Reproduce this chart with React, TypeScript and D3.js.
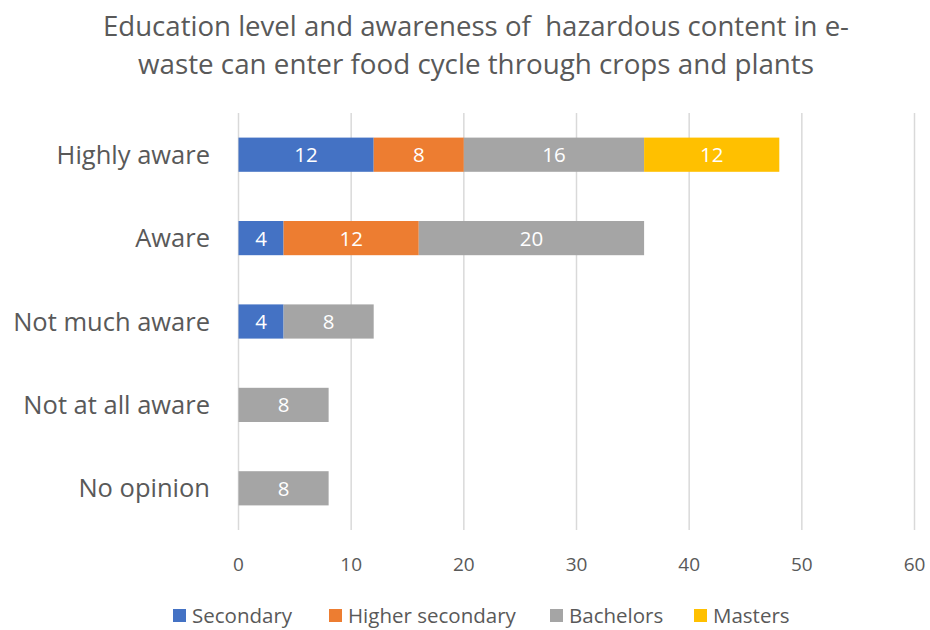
import React from "react";
import * as d3 from "d3";

const categories = ["Highly aware", "Aware", "Not much aware", "Not at all aware", "No opinion"];
const seriesNames = ["Secondary", "Higher secondary", "Bachelors", "Masters"];
const secondary = [12, 4, 4, 0, 0];
const higherSecondary = [8, 12, 0, 0, 0];
const bachelors = [16, 20, 8, 8, 8];
const masters = [12, 0, 0, 0, 0];
const xTicks = [0, 10, 20, 30, 40, 50, 60];
const colors = ["#4472C4", "#ED7D31", "#A5A5A5", "#FFC000"];
const titleLines = [
  "Education level and awareness of  hazardous content in e-",
  "waste can enter food cycle through crops and plants",
];

const FONT = "'Open Sans', Lato, sans-serif";

export default function App() {
  const W = 930, H = 630;
  const x = d3.scaleLinear().domain([0, 60]).range([238.5, 914.5]);
  const y = d3.scaleBand().domain(categories).range([113, 530]).paddingInner(0.59).paddingOuter(0.295);
  const rows = categories.map((c, i) => ({
    cat: c,
    Secondary: secondary[i],
    "Higher secondary": higherSecondary[i],
    Bachelors: bachelors[i],
    Masters: masters[i],
  }));
  const stack = d3.stack<any>().keys(seriesNames)(rows);
  const legendX = [173, 329, 550, 694];
  const titleWidths = [746, 676];
  return (
    <svg width={W} height={H} style={{ position: "absolute", left: 0, top: 0 }} fontFamily={FONT}>
      <rect width={W} height={H} fill="#fff" />
      {titleLines.map((t, i) => (
        <text key={i} x={476} y={36 + i * 38} textAnchor="middle" fontSize={26.5} fill="#595959"
          textLength={titleWidths[i]} lengthAdjust="spacingAndGlyphs" style={{ whiteSpace: "pre" }}>{t}</text>
      ))}
      {xTicks.map((t) => (
        <g key={t}>
          <line x1={x(t)} x2={x(t)} y1={113} y2={530} stroke="#D9D9D9" strokeWidth={1.5} />
          <text x={x(t)} y={571} textAnchor="middle" fontSize={19} fill="#595959">{t}</text>
        </g>
      ))}
      {stack.map((s, si) => (
        <g key={s.key}>
          {s.map((d, di) => {
            const v = d[1] - d[0];
            if (v <= 0) return null;
            const yy = y(categories[di])!;
            return (
              <g key={di}>
                <rect x={x(d[0])} y={yy} width={x(d[1]) - x(d[0])} height={y.bandwidth()} fill={colors[si]} />
                <text x={(x(d[0]) + x(d[1])) / 2} y={yy + y.bandwidth() / 2 + 7.5} textAnchor="middle" fontSize={20.5} fill="#fff">{v}</text>
              </g>
            );
          })}
        </g>
      ))}
      {categories.map((c) => (
        <text key={c} x={210} y={y(c)! + y.bandwidth() / 2 + 9} textAnchor="end" fontSize={25.5} fill="#595959">{c}</text>
      ))}
      {seriesNames.map((n, i) => (
        <g key={n}>
          <rect x={legendX[i]} y={609} width={13} height={13} fill={colors[i]} />
          <text x={legendX[i] + 19} y={622.5} fontSize={20.5} fill="#595959">{n}</text>
        </g>
      ))}
    </svg>
  );
}
